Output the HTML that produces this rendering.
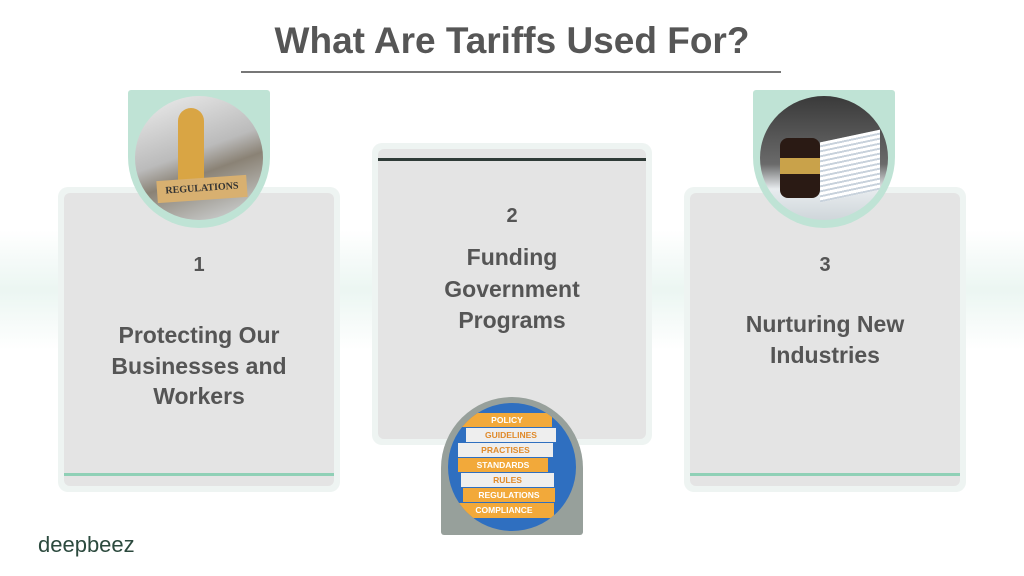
<!DOCTYPE html>
<html><head><meta charset="utf-8"><style>
body{margin:0;width:1024px;height:576px;background:#fff;position:relative;overflow:hidden;font-family:"Liberation Sans",sans-serif}
.t{position:absolute;left:0;width:1024px;top:20px;text-align:center;font-size:37px;font-weight:bold;color:#565656}
.ul{position:absolute;left:241px;top:71px;width:540px;height:2px;background:#777}
.card{position:absolute;background:#eef4f2;border-radius:10px}
.in{position:absolute;left:6px;top:6px;right:6px;bottom:6px;background:#e4e4e4;border-radius:6px}
.num,.lab{position:absolute;left:0;width:100%;text-align:center;color:#555;font-weight:bold}
.num{font-size:20px}
.lab{font-size:23px;line-height:30.5px}
.badge{position:absolute;width:142px;height:138px;background:#bfe3d5;border-radius:3px 3px 71px 71px}
.circ{position:absolute;left:7px;top:6px;width:128px;height:124px;border-radius:50%;overflow:hidden}
.band{position:absolute;left:0;top:230px;width:1024px;height:120px;background:linear-gradient(180deg,rgba(255,255,255,0),rgba(190,225,212,.3),rgba(255,255,255,0))}
</style></head><body>
<div class="band"></div>
<div class="t">What Are Tariffs Used For?</div>
<div class="ul"></div>

<div class="card" style="left:58px;top:187px;width:282px;height:305px"><div class="in">
<div style="position:absolute;left:0;right:0;bottom:10px;height:3px;background:#8fd0b6"></div>
<div class="num" style="top:61px">1</div>
<div class="lab" style="top:127px">Protecting Our<br>Businesses and<br>Workers</div></div></div>

<div class="card" style="left:372px;top:143px;width:280px;height:302px"><div class="in">
<div style="position:absolute;left:0;right:0;top:9px;height:3px;background:#2f3b37"></div>
<div class="num" style="top:56px">2</div>
<div class="lab" style="top:93px;line-height:31.5px">Funding<br>Government<br>Programs</div></div></div>

<div class="card" style="left:684px;top:187px;width:282px;height:305px"><div class="in">
<div style="position:absolute;left:0;right:0;bottom:10px;height:3px;background:#8fd0b6"></div>
<div class="num" style="top:61px">3</div>
<div class="lab" style="top:116px">Nurturing New<br>Industries</div></div></div>

<div class="badge" style="left:128px;top:90px"><div class="circ" style="background:linear-gradient(160deg,#eee 0%,#bbb 45%,#8a8275 60%,#d8dde0 100%)">
<div style="position:absolute;left:43px;top:12px;width:26px;height:80px;background:#d9a544;border-radius:13px 13px 6px 6px"></div>
<div style="position:absolute;left:22px;top:82px;width:90px;height:22px;background:#d8b070;transform:rotate(-4deg);font-family:'Liberation Serif',serif;font-size:10px;font-weight:bold;color:#333;text-align:center;line-height:22px">REGULATIONS</div></div></div>

<div class="badge" style="left:753px;top:90px"><div class="circ" style="background:linear-gradient(180deg,#3a3a3a 0%,#6a6a6a 55%,#e8ecef 75%,#cfd6da 100%)">
<div style="position:absolute;left:60px;top:40px;width:60px;height:60px;background:repeating-linear-gradient(180deg,#fff 0 3px,#c8d2dc 3px 5px);transform:skewY(-12deg)"></div>
<div style="position:absolute;left:20px;top:42px;width:40px;height:60px;background:#2a1a14;border-radius:8px"></div>
<div style="position:absolute;left:20px;top:62px;width:40px;height:16px;background:#c9a24a"></div></div></div>

<div style="position:absolute;left:441px;top:397px;width:142px;height:138px;background:#97a09b;border-radius:71px 71px 3px 3px">
<div style="position:absolute;left:7px;top:6px;width:128px;height:128px;border-radius:50%;overflow:hidden;background:#2f6fc0;font-size:8.5px;font-weight:bold;text-align:center">
<div style="position:absolute;left:14px;top:10px;width:90px;height:14px;background:#f2a93a;color:#fff;line-height:14px">POLICY</div>
<div style="position:absolute;left:18px;top:25px;width:90px;height:14px;background:#eee;color:#e08a2a;line-height:14px">GUIDELINES</div>
<div style="position:absolute;left:10px;top:40px;width:95px;height:14px;background:#eee;color:#e08a2a;line-height:14px">PRACTISES</div>
<div style="position:absolute;left:10px;top:55px;width:90px;height:14px;background:#f2a93a;color:#fff;line-height:14px">STANDARDS</div>
<div style="position:absolute;left:13px;top:70px;width:93px;height:14px;background:#eee;color:#e08a2a;line-height:14px">RULES</div>
<div style="position:absolute;left:15px;top:85px;width:92px;height:14px;background:#f2a93a;color:#fff;line-height:14px">REGULATIONS</div>
<div style="position:absolute;left:6px;top:100px;width:100px;height:15px;background:#f2a93a;color:#fff;line-height:15px">COMPLIANCE</div>
</div></div>

<div style="position:absolute;left:38px;top:532px;font-size:22px;color:#2c4a3e">deepbeez</div>
</body></html>
